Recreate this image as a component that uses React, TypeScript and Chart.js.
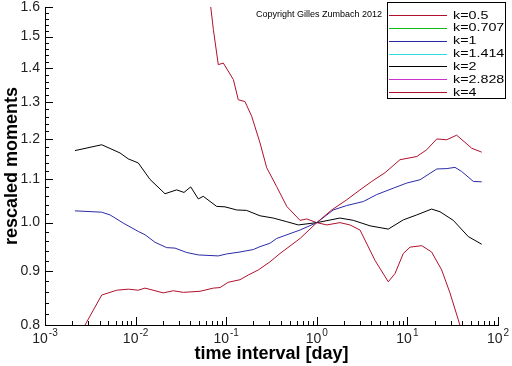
import React, { useEffect, useRef } from 'react';
import { Chart, registerables } from 'chart.js';

Chart.register(...registerables);

// ---- data ----
const SERIES_LABELS = ['k=0.5', 'k=0.707', 'k=1', 'k=1.414', 'k=2', 'k=2.828', 'k=4'];
const SERIES_COLORS = ['#b0102c', '#10b818', '#2a2aa8', '#30dcdc', '#000000', '#cc30cc', '#b0102c'];

const K05_X = [0.00214, 0.00423, 0.00619, 0.0083, 0.0107, 0.0127, 0.0202, 0.0261, 0.0336, 0.0514, 0.0722, 0.0855, 0.105, 0.142, 0.175, 0.226, 0.304, 0.393, 0.653, 1.0, 1.46, 2.14, 3.0, 4.04, 5.66, 8.28, 12.7, 16.3, 21.1, 27.2, 35.0, 51.3, 66.1];
const K05_Y = [0.769, 0.854, 0.863, 0.865, 0.863, 0.867, 0.858, 0.862, 0.859, 0.861, 0.867, 0.868, 0.878, 0.883, 0.892, 0.902, 0.918, 0.935, 0.966, 1.0, 1.028, 1.051, 1.074, 1.094, 1.115, 1.147, 1.155, 1.172, 1.2, 1.198, 1.21, 1.176, 1.166];

const K1_X = [0.00214, 0.00423, 0.00522, 0.00731, 0.0107, 0.0127, 0.0164, 0.022, 0.0272, 0.0366, 0.0492, 0.0818, 0.101, 0.142, 0.199, 0.236, 0.304, 0.36, 0.653, 1.0, 1.52, 2.14, 3.26, 4.58, 6.99, 9.82, 13.8, 21.1, 27.2, 33.5, 39.7, 53.4, 66.1];
const K1_Y = [1.026, 1.023, 1.017, 0.999, 0.981, 0.974, 0.958, 0.947, 0.946, 0.937, 0.932, 0.93, 0.934, 0.938, 0.943, 0.949, 0.956, 0.966, 0.984, 1.0, 1.028, 1.038, 1.047, 1.063, 1.078, 1.09, 1.098, 1.124, 1.125, 1.128, 1.118, 1.094, 1.093];

const K2_X = [0.00214, 0.00423, 0.00673, 0.0083, 0.0107, 0.0144, 0.0211, 0.0284, 0.0342, 0.0406, 0.0492, 0.0558, 0.0785, 0.097, 0.1306, 0.168, 0.236, 0.331, 0.466, 0.625, 1.0, 1.8, 2.53, 3.87, 6.15, 9.01, 12.7, 18.5, 22.9, 32.1, 47.0, 66.1];
const K2_Y = [1.17, 1.185, 1.164, 1.149, 1.139, 1.099, 1.065, 1.074, 1.068, 1.081, 1.053, 1.059, 1.036, 1.035, 1.028, 1.027, 1.015, 1.01, 1.002, 0.995, 1.0, 1.01, 1.005, 0.993, 0.986, 1.006, 1.017, 1.03, 1.024, 1.005, 0.97, 0.954];

const K4_X = [0.0638, 0.0675, 0.0722, 0.0818, 0.0929, 0.12, 0.136, 0.161, 0.191, 0.236, 0.28, 0.36, 0.466, 0.653, 0.775, 1.0, 1.29, 1.8, 2.32, 3.0, 4.39, 6.15, 7.3, 9.01, 10.7, 14.4, 18.5, 23.9, 29.5, 36.5, 47.0, 66.1];
const K4_Y = [1.654, 1.6, 1.523, 1.411, 1.416, 1.366, 1.307, 1.302, 1.261, 1.19, 1.127, 1.082, 1.036, 1.005, 1.008, 1.0, 0.995, 1.0, 0.995, 0.984, 0.921, 0.879, 0.895, 0.935, 0.948, 0.951, 0.938, 0.902, 0.858, 0.809, 0.749, 0.702];

// series visible in the picture, by legend index (others have no visible line)
const SERIES_X: (number[] | null)[] = [K05_X, null, K1_X, null, K2_X, null, K4_X];
const SERIES_Y: (number[] | null)[] = [K05_Y, null, K1_Y, null, K2_Y, null, K4_Y];

const X_MAJOR = [1e-3, 1e-2, 1e-1, 1, 10, 100];
const X_TICK_BASE = '10';
const X_TICK_EXPONENTS = ['-3', '-2', '-1', '0', '1', '2'];
const Y_MAJOR = [0.8, 0.9, 1.0, 1.1, 1.2, 1.3, 1.4, 1.5, 1.6];
const Y_TICK_LABELS = ['0.8', '0.9', '1.0', '1.1', '1.2', '1.3', '1.4', '1.5', '1.6'];

const X_TITLE = 'time interval [day]';
const Y_TITLE = 'rescaled moments';
const COPYRIGHT = 'Copyright Gilles Zumbach 2012';

const FONT = "'Liberation Sans', Arial, sans-serif";

function xMinor(): number[] {
  const out: number[] = [];
  for (let i = 0; i < X_MAJOR.length - 1; i++) {
    for (let m = 2; m <= 9; m++) out.push(X_MAJOR[i] * m);
  }
  return out;
}
function yMinor(): number[] {
  const out: number[] = [];
  for (let i = 0; i < Y_MAJOR.length - 1; i++) {
    for (let m = 1; m <= 4; m++) out.push(Math.round((Y_MAJOR[i] + m * 0.02) * 1000) / 1000);
  }
  return out;
}

const decorPlugin = {
  id: 'decor',
  afterDatasetsDraw(chart: any) {
    const { ctx, chartArea, scales } = chart;
    const x = scales.x;
    const y = scales.y;
    ctx.save();
    ctx.strokeStyle = '#000';
    ctx.lineWidth = 1;
    ctx.beginPath();
    const b = chartArea.bottom;
    const l = chartArea.left;
    X_MAJOR.forEach((v) => {
      const p = Math.round(x.getPixelForValue(v)) + 0.5;
      ctx.moveTo(p, b); ctx.lineTo(p, b - 8);
    });
    xMinor().forEach((v) => {
      const p = Math.round(x.getPixelForValue(v)) + 0.5;
      ctx.moveTo(p, b); ctx.lineTo(p, b - 4);
    });
    Y_MAJOR.forEach((v) => {
      const p = Math.round(y.getPixelForValue(v)) + 0.5;
      ctx.moveTo(l, p); ctx.lineTo(l + 8, p);
    });
    yMinor().forEach((v) => {
      const p = Math.round(y.getPixelForValue(v)) + 0.5;
      ctx.moveTo(l, p); ctx.lineTo(l + 4, p);
    });
    ctx.stroke();

    // x tick labels: 10 with superscript exponent
    ctx.fillStyle = '#222';
    ctx.textBaseline = 'alphabetic';
    ctx.textAlign = 'left';
    X_MAJOR.forEach((v, i) => {
      const p = x.getPixelForValue(v);
      ctx.font = `14px ${FONT}`;
      const wb = ctx.measureText(X_TICK_BASE).width;
      ctx.font = `10px ${FONT}`;
      const we = ctx.measureText(X_TICK_EXPONENTS[i]).width;
      const sx = p - (wb + we + 1) / 2;
      ctx.font = `14px ${FONT}`;
      ctx.fillText(X_TICK_BASE, sx, b + 18);
      ctx.font = `10px ${FONT}`;
      ctx.fillText(X_TICK_EXPONENTS[i], sx + wb + 1, b + 11);
    });

    // copyright
    ctx.fillStyle = '#000';
    ctx.font = `9px ${FONT}`;
    ctx.textBaseline = 'middle';
    ctx.textAlign = 'left';
    ctx.fillText(COPYRIGHT, chartArea.left + 211, 15);

    // legend box
    const bx = chartArea.right - 111;
    ctx.fillStyle = '#fff';
    ctx.fillRect(bx, 2, 119, 96);
    ctx.strokeStyle = '#000';
    ctx.strokeRect(bx + 0.5, 2.5, 118, 96);
    chart.data.datasets.forEach((ds: any, i: number) => {
      const ry = 15 + i * 12.85;
      ctx.strokeStyle = ds.borderColor;
      ctx.beginPath();
      ctx.moveTo(bx + 2, Math.round(ry) + 0.5);
      ctx.lineTo(bx + 60, Math.round(ry) + 0.5);
      ctx.stroke();
      ctx.fillStyle = '#000';
      ctx.save();
      ctx.translate(bx + 66, ry + 0.5);
      ctx.scale(1.3, 1);
      ctx.font = `11px ${FONT}`;
      ctx.fillText(ds.label, 0, 0);
      ctx.restore();
    });
    ctx.restore();
  },
};

export default function App() {
  const ref = useRef<HTMLCanvasElement>(null);

  useEffect(() => {
    document.body.style.margin = '0';
    const canvas = ref.current!;
    const datasets = SERIES_LABELS.map((label, i) => {
      const xs = SERIES_X[i];
      const ys = SERIES_Y[i];
      return {
        label,
        data: xs && ys ? xs.map((xv, j) => ({ x: xv, y: ys[j] })) : [],
        borderColor: SERIES_COLORS[i],
        backgroundColor: SERIES_COLORS[i],
        borderWidth: 1,
        pointRadius: 0,
        tension: 0,
        fill: false,
      };
    });

    const chart = new Chart(canvas, {
      type: 'line',
      data: { datasets },
      options: {
        responsive: false,
        animation: false,
        devicePixelRatio: 1,
        layout: { padding: { top: 7, right: 14, left: 0, bottom: 0 } },
        plugins: { legend: { display: false }, tooltip: { enabled: false } },
        scales: {
          x: {
            type: 'logarithmic',
            min: 1e-3,
            max: 100,
            grid: { display: false, drawTicks: false },
            border: { display: true, color: '#000', width: 1 },
            afterBuildTicks: (scale: any) => {
              scale.ticks = X_MAJOR.map((v) => ({ value: v }));
            },
            afterFit: (scale: any) => {
              scale.height = 41;
              scale.paddingLeft = 0;
              scale.paddingRight = 0;
            },
            ticks: { display: false },
            title: {
              display: true,
              text: X_TITLE,
              color: '#000',
              padding: { top: 0, bottom: 3 },
              font: { family: FONT, size: 18, weight: 'bold', lineHeight: 1 },
            },
          },
          y: {
            type: 'logarithmic',
            min: 0.8,
            max: 1.6,
            grid: { display: false, drawTicks: false },
            border: { display: true, color: '#000', width: 1 },
            afterBuildTicks: (scale: any) => {
              scale.ticks = Y_MAJOR.map((v) => ({ value: v }));
            },
            afterFit: (scale: any) => {
              scale.width = 45;
              scale.paddingTop = 0;
              scale.paddingBottom = 0;
            },
            ticks: {
              autoSkip: false,
              padding: 5,
              color: '#222',
              font: { family: FONT, size: 14, lineHeight: 1 },
              callback: (_v: any, idx: number) => Y_TICK_LABELS[idx],
            },
            title: {
              display: true,
              text: Y_TITLE,
              color: '#000',
              padding: { top: 3, bottom: 0 },
              font: { family: FONT, size: 18, weight: 'bold', lineHeight: 1 },
            },
          },
        },
      },
      plugins: [decorPlugin],
    } as any);

    return () => chart.destroy();
  }, []);

  return (
    <div style={{ position: 'fixed', left: 0, top: 0, width: 512, height: 366, background: '#fff' }}>
      <canvas ref={ref} width={512} height={366} style={{ display: 'block' }} />
    </div>
  );
}
